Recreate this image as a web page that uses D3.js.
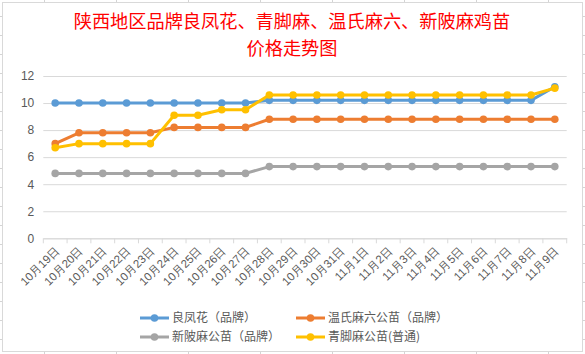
<!DOCTYPE html>
<html>
<head>
<meta charset="utf-8">
<script src="https://cdn.jsdelivr.net/npm/d3@7/dist/d3.min.js"></script>
<style>
  html, body { margin: 0; padding: 0; background: #fff; }
  svg { display: block; font-family: "Noto Sans CJK SC", "Noto Sans", sans-serif; }
</style>
</head>
<body>
<div id="chart"></div>
<script>
const titleLines = ["陕西地区品牌良凤花、青脚麻、温氏麻六、新陂麻鸡苗", "价格走势图"];

const dates = ["10月19日", "10月20日", "10月21日", "10月22日", "10月23日", "10月24日", "10月25日",
  "10月26日", "10月27日", "10月28日", "10月29日", "10月30日", "10月31日", "11月1日", "11月2日",
  "11月3日", "11月4日", "11月5日", "11月6日", "11月7日", "11月8日", "11月9日"];

const liangfenghua = [10, 10, 10, 10, 10, 10, 10, 10, 10, 10.2, 10.2, 10.2, 10.2, 10.2, 10.2, 10.2, 10.2, 10.2, 10.2, 10.2, 10.2, 11.2];
const wenshi = [7.0, 7.8, 7.8, 7.8, 7.8, 8.2, 8.2, 8.2, 8.2, 8.8, 8.8, 8.8, 8.8, 8.8, 8.8, 8.8, 8.8, 8.8, 8.8, 8.8, 8.8, 8.8];
const xinpo = [4.8, 4.8, 4.8, 4.8, 4.8, 4.8, 4.8, 4.8, 4.8, 5.3, 5.3, 5.3, 5.3, 5.3, 5.3, 5.3, 5.3, 5.3, 5.3, 5.3, 5.3, 5.3];
const qingjiao = [6.7, 7.0, 7.0, 7.0, 7.0, 9.1, 9.1, 9.5, 9.5, 10.6, 10.6, 10.6, 10.6, 10.6, 10.6, 10.6, 10.6, 10.6, 10.6, 10.6, 10.6, 11.1];

const seriesNames = ["良凤花（品牌）", "温氏麻六公苗（品牌）", "新陂麻公苗（品牌）", "青脚麻公苗(普通)"];
const yTicks = [0, 2, 4, 6, 8, 10, 12];

const series = [
  { name: seriesNames[0], values: liangfenghua, color: "#5B9BD5" },
  { name: seriesNames[1], values: wenshi, color: "#ED7D31" },
  { name: seriesNames[2], values: xinpo, color: "#A5A5A5" },
  { name: seriesNames[3], values: qingjiao, color: "#FFC000" }
];

const width = 585, height = 354;
const svg = d3.select("#chart").append("svg")
  .attr("width", width)
  .attr("height", height);

// spreadsheet cells peeking out around the chart
const sheet = svg.append("g").attr("stroke", "#d4d4d4").attr("stroke-width", 1);
d3.range(16, height, 19).forEach(y => {
  sheet.append("line").attr("x1", 0).attr("x2", width).attr("y1", y + 0.5).attr("y2", y + 0.5);
});
d3.range(44, width, 72).forEach(x => {
  sheet.append("line").attr("x1", x + 0.5).attr("x2", x + 0.5).attr("y1", 0).attr("y2", height);
});

// chart area
svg.append("rect")
  .attr("x", 2.5).attr("y", 2.5)
  .attr("width", 580).attr("height", 349)
  .attr("fill", "#fff")
  .attr("stroke", "#d9d9d9");

// title, two lines
svg.append("g").selectAll("text")
  .data(titleLines)
  .join("text")
  .attr("x", 292)
  .attr("y", (d, i) => 28 + i * 26.5)
  .attr("text-anchor", "middle")
  .attr("fill", "#ff0000")
  .attr("font-size", "18.2px")
  .text(d => d);

const plot = { left: 43.3, right: 566.7, top: 76, bottom: 238.3 };

const x = d3.scaleBand().domain(dates).range([plot.left, plot.right]).padding(0);
const y = d3.scaleLinear().domain([0, 12]).range([plot.bottom, plot.top]);
const cx = i => x(dates[i]) + x.bandwidth() / 2;

// gridlines + y labels
const yAxis = svg.append("g")
  .attr("transform", `translate(${plot.left},0)`)
  .call(d3.axisLeft(y).tickValues(yTicks).tickSize(-(plot.right - plot.left)).tickPadding(9));
yAxis.select(".domain").remove();
yAxis.selectAll(".tick line").attr("stroke", "#d9d9d9");
yAxis.selectAll(".tick text")
  .attr("fill", "#595959")
  .attr("font-size", "12px");

// category axis
const xAxis = svg.append("g")
  .attr("transform", `translate(0,${plot.bottom})`)
  .call(d3.axisBottom(x).tickSize(0).tickPadding(0));
xAxis.select(".domain").attr("stroke", "#d9d9d9");
xAxis.selectAll(".tick text")
  .attr("fill", "#595959")
  .attr("font-size", "11.5px")
  .attr("text-anchor", "end")
  .attr("dy", "0")
  .attr("transform", "translate(5,13) rotate(-45)");

// tick marks between categories
svg.append("g").selectAll("line")
  .data(d3.range(dates.length + 1))
  .join("line")
  .attr("x1", i => plot.left + i * x.bandwidth())
  .attr("x2", i => plot.left + i * x.bandwidth())
  .attr("y1", plot.bottom)
  .attr("y2", plot.bottom + 5)
  .attr("stroke", "#d9d9d9");

// lines and markers
const line = d3.line().x((d, i) => cx(i)).y(d => y(d));

series.forEach(s => {
  const g = svg.append("g");
  g.append("path")
    .datum(s.values)
    .attr("d", line)
    .attr("fill", "none")
    .attr("stroke", s.color)
    .attr("stroke-width", 3)
    .attr("stroke-linejoin", "round")
    .attr("stroke-linecap", "round");
  g.selectAll("circle")
    .data(s.values)
    .join("circle")
    .attr("cx", (d, i) => cx(i))
    .attr("cy", d => y(d))
    .attr("r", 3.8)
    .attr("fill", s.color);
});

// legend
const legendPos = [
  { lx: 140, ly: 318 }, { lx: 296, ly: 318 },
  { lx: 140, ly: 337 }, { lx: 296, ly: 337 }
];
const legend = svg.append("g").selectAll("g")
  .data(series)
  .join("g")
  .attr("transform", (d, i) => `translate(${legendPos[i].lx},${legendPos[i].ly})`);
legend.append("line")
  .attr("x1", 0).attr("x2", 29)
  .attr("y1", 0).attr("y2", 0)
  .attr("stroke", d => d.color)
  .attr("stroke-width", 3);
legend.append("circle")
  .attr("cx", 14.5).attr("cy", 0).attr("r", 3.8)
  .attr("fill", d => d.color);
legend.append("text")
  .attr("x", 32)
  .attr("y", 0)
  .attr("dy", "0.36em")
  .attr("fill", "#595959")
  .attr("font-size", "12px")
  .text(d => d.name);
</script>
</body>
</html>
